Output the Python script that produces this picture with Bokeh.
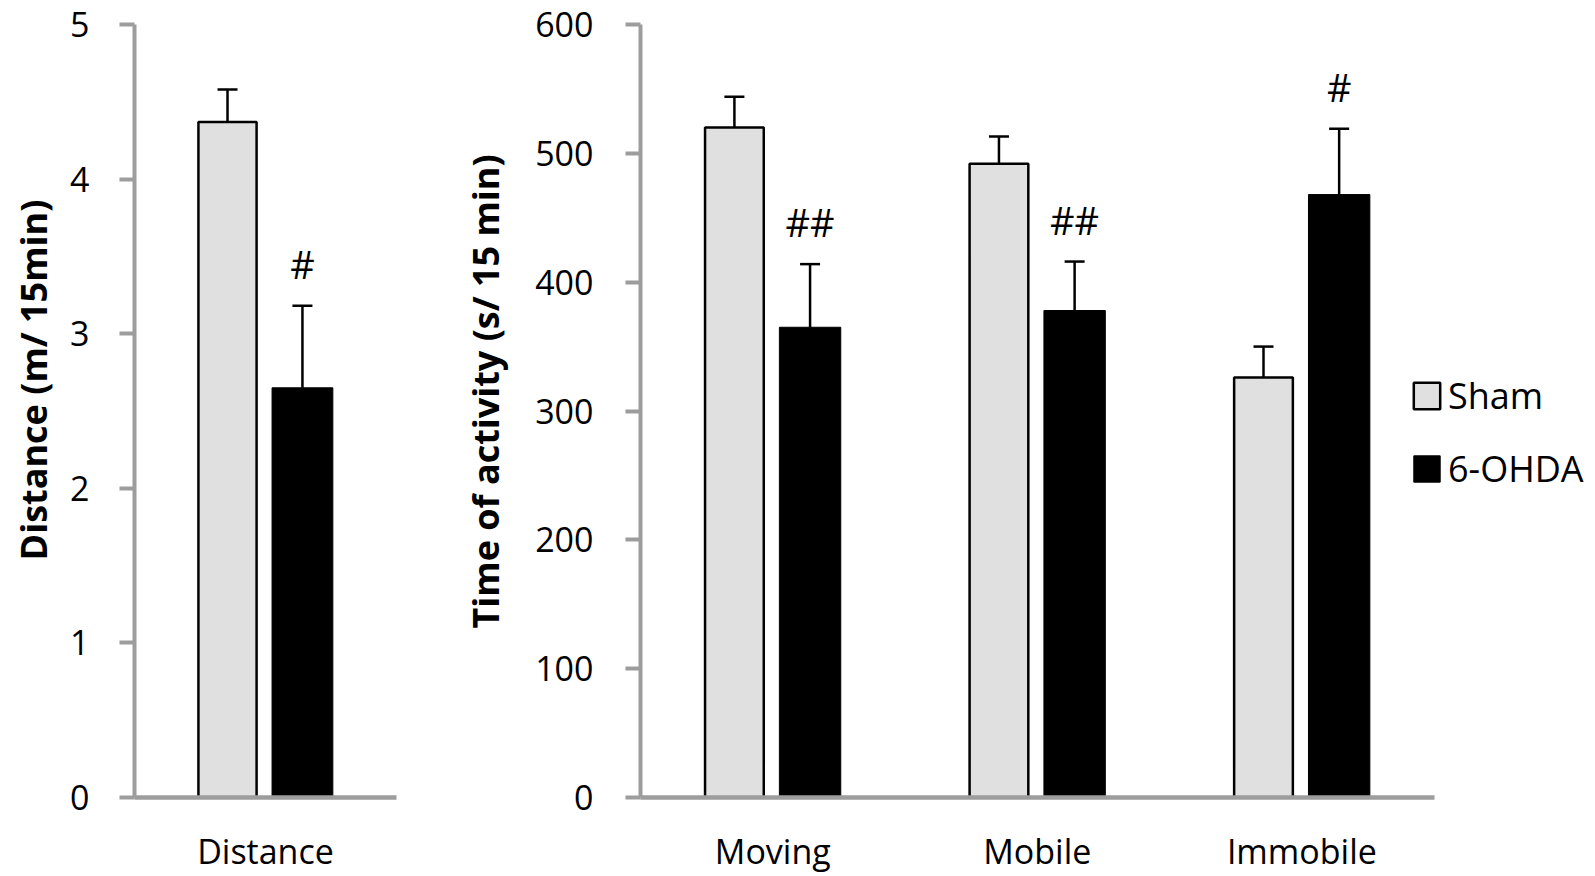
from bokeh.plotting import figure
from bokeh.models import (FactorRange, Range1d, FixedTicker, Whisker, TeeHead,
                          Legend, LegendItem, ColumnDataSource, Title)
from bokeh.transform import dodge
from bokeh.layouts import row
from bokeh.core.properties import value
from bokeh.embed import file_html
from bokeh.resources import INLINE

# ---------------- data ----------------
dist_categories = ["Distance"]
dist_sham = [4.37]
dist_sham_err = [0.21]
dist_ohda = [2.65]
dist_ohda_err = [0.53]
dist_sig = ["#"]
dist_ticks = [0, 1, 2, 3, 4, 5]

act_categories = ["Moving", "Mobile", "Immobile"]
act_sham = [520, 492, 326]
act_sham_err = [24, 21, 24]
act_ohda = [365, 378, 468]
act_ohda_err = [49, 38, 51]
act_sig = ["##", "##", "#"]
act_ticks = [0, 100, 200, 300, 400, 500, 600]

series_names = ["Sham", "6-OHDA"]

# ---------------- style ----------------
FONT = "Open Sans"
AXIS_GRAY = "#9d9d9d"
SHAM_FILL = "#e0e0e0"
H = 876
TOP = 24
BOTTOM = 78
OFF_SHAM = -0.145
OFF_OHDA = 0.141


def style(p, ticks, ylabel, label_offset, label_standoff, tick_standoff):
    p.outline_line_color = None
    p.grid.visible = False
    p.background_fill_color = "white"
    p.border_fill_color = "white"
    ya = p.yaxis[0]
    ya.ticker = FixedTicker(ticks=ticks)
    ya.minor_tick_line_color = None
    ya.major_tick_in = 0
    ya.major_tick_out = 15
    ya.major_tick_line_color = AXIS_GRAY
    ya.major_tick_line_width = 4
    ya.axis_line_color = AXIS_GRAY
    ya.axis_line_width = 4
    ya.major_label_text_font = FONT
    ya.major_label_text_font_size = "34px"
    ya.major_label_text_color = "black"
    ya.major_label_standoff = tick_standoff

    # y-axis title, placed in the left border, reading upwards
    t = Title(text=ylabel, align="left", offset=label_offset,
              vertical_align="top", standoff=label_standoff,
              text_font=FONT, text_font_style="bold",
              text_font_size="36px", text_color="black")
    p.add_layout(t, "left")

    xa = p.xaxis[0]
    xa.major_tick_line_color = None
    xa.minor_tick_line_color = None
    xa.major_tick_out = 0
    xa.major_tick_in = 0
    xa.axis_line_color = AXIS_GRAY
    xa.axis_line_width = 4.5
    xa.major_label_text_font = FONT
    xa.major_label_text_font_size = "34px"
    xa.major_label_text_color = "black"
    xa.major_label_standoff = 30


def draw(p, src, xfield):
    r_sham = p.vbar(x=dodge(xfield, OFF_SHAM, range=p.x_range), top="sham",
                    width=0.222, source=src, fill_color=SHAM_FILL,
                    line_color="black", line_width=2.5)
    r_ohda = p.vbar(x=dodge(xfield, OFF_OHDA, range=p.x_range), top="ohda",
                    width=0.232, source=src, fill_color="black",
                    line_color="black", line_width=1)
    for off, lo, hi in ((OFF_SHAM, "sham", "sham_hi"), (OFF_OHDA, "ohda", "ohda_hi")):
        w = Whisker(base=dodge(xfield, off, range=p.x_range), lower=lo, upper=hi,
                    source=src, line_color="black", line_width=2.5,
                    upper_head=TeeHead(size=20, line_width=2.5, line_color="black"),
                    lower_head=None)
        p.add_layout(w)
    p.text(x=dodge(xfield, OFF_OHDA, range=p.x_range), y="ohda_hi", text="sig",
           source=src, y_offset=-42, text_align="center", text_baseline="middle",
           text_font=value(FONT), text_font_size="38px", text_color="black")
    return r_sham, r_ohda


def make_source(cats, sham, sham_err, ohda, ohda_err, sig):
    return ColumnDataSource(dict(
        cat=cats, pos=list(range(1, len(cats) + 1)),
        sham=sham, ohda=ohda,
        sham_hi=[m + e for m, e in zip(sham, sham_err)],
        ohda_hi=[m + e for m, e in zip(ohda, ohda_err)],
        sig=sig))


# ---------- left panel: distance ----------
srcA = make_source(dist_categories, dist_sham, dist_sham_err,
                   dist_ohda, dist_ohda_err, dist_sig)
pA = figure(x_range=FactorRange(factors=dist_categories, range_padding=0),
            y_range=Range1d(0, max(dist_ticks)),
            width=438, height=H, output_backend="svg", toolbar_location=None,
            min_border_left=134, min_border_right=42,
            min_border_top=TOP, min_border_bottom=BOTTOM)
draw(pA, srcA, "cat")
style(pA, dist_ticks, "Distance (m/ 15min)", 237, 15, 30)

# ---------- right panel: activity time ----------
srcB = make_source(act_categories, act_sham, act_sham_err,
                   act_ohda, act_ohda_err, act_sig)
n = len(act_categories)
pB = figure(x_range=Range1d(0.5, n + 1.11),
            y_range=Range1d(0, max(act_ticks)),
            width=1157, height=H, output_backend="svg", toolbar_location=None,
            min_border_left=202, min_border_right=0,
            min_border_top=TOP, min_border_bottom=BOTTOM)
rs, ro = draw(pB, srcB, "pos")
style(pB, act_ticks, "Time of activity (s/ 15 min)", 169, 42, 32)
pB.xaxis[0].ticker = FixedTicker(ticks=list(range(1, n + 1)))
pB.xaxis[0].major_label_overrides = {i + 1: c for i, c in enumerate(act_categories)}
pB.xaxis[0].bounds = (0.5, n + 0.5)

legend = Legend(items=[LegendItem(label=series_names[0], renderers=[rs]),
                       LegendItem(label=series_names[1], renderers=[ro])],
                location=(770, 304), orientation="vertical",
                glyph_width=33, glyph_height=33, label_standoff=5,
                spacing=24, padding=0, margin=0,
                border_line_color=None, background_fill_alpha=0,
                label_text_font=FONT, label_text_font_size="36px",
                label_text_color="black")
pB.add_layout(legend, "center")

layout = row(pA, pB)
open("out.html", "w").write(file_html(layout, INLINE))
